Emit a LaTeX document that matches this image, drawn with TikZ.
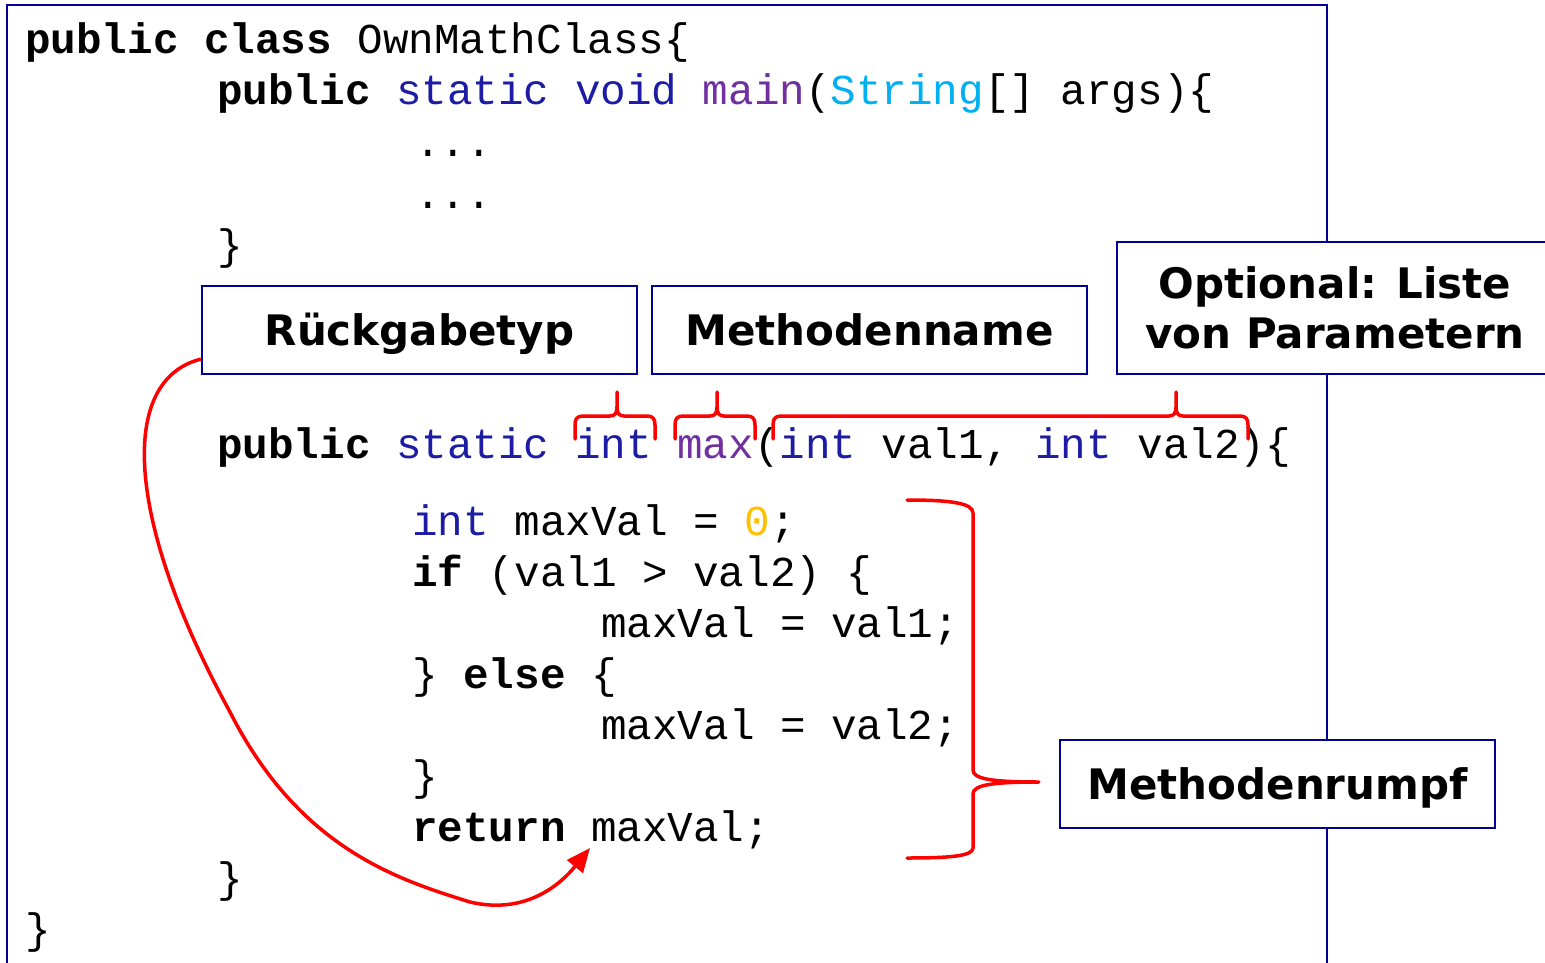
\documentclass[tikz,border=0pt]{standalone}
\usepackage{fontspec}
\setmonofont{Liberation Mono}
\newfontfamily\labelfont{DejaVu Sans}
\usetikzlibrary{arrows.meta,calc}

\definecolor{frameblue}{RGB}{0,0,153}
\definecolor{kwblue}{RGB}{28,28,164}
\definecolor{fnpurple}{RGB}{112,48,160}
\definecolor{typecyan}{RGB}{0,176,240}
\definecolor{numyellow}{RGB}{255,192,0}
\definecolor{markred}{RGB}{255,0,0}

\newcommand\kw[1]{\textcolor{kwblue}{#1}}
\newcommand\fn[1]{\textcolor{fnpurple}{#1}}
\newcommand\ty[1]{\textcolor{typecyan}{#1}}
\newcommand\num[1]{\textcolor{numyellow}{#1}}
\newcommand\bkw[1]{\textbf{#1}}

% curly brace above a code fragment: left end, tip, right end
\newcommand\codebrace[3]{%
  \draw[bracestyle] (#1,439) -- (#1,425)
    .. controls (#1,419) and (#1+2,416) .. (#1+8,416) -- (#2-7,416)
    .. controls (#2-2,416) and (#2,413) .. (#2,407) -- (#2,392)
    -- (#2,407) .. controls (#2,413) and (#2+2,416) .. (#2+7,416)
    -- (#3-8,416) .. controls (#3-2,416) and (#3,419) .. (#3,425) -- (#3,439);}

\begin{document}
\begin{tikzpicture}[x=1pt,y=-1pt,
  code/.style={inner sep=0pt,anchor=base west,
    font=\ttfamily\fontsize{42.6}{42.6}\selectfont},
  label/.style={draw=frameblue,line width=2.2pt,fill=white,align=center,
    font=\labelfont\bfseries\fontsize{42}{50}\selectfont,inner sep=0pt},
  oneline/.style={text height=31pt,text depth=0pt},
  bracestyle/.style={draw=markred,line width=3.5pt,line cap=round,line join=round},
  pointer/.style={draw=markred,line width=3.5pt,
    -{Triangle[length=24pt,width=20pt]}}]
\useasboundingbox (0,0) rectangle (1545,963);
\fill[white] (0,0) rectangle (1545,963);

% class frame
\draw[frameblue,line width=2.5pt] (7,980) -- (7,5) -- (1327,5) -- (1327,980);

% source code
\node[code] (l1)  at (25,54)   {\bkw{public class} OwnMathClass\{};
\node[code] (l2)  at (217,105) {\bkw{public} \kw{static void} \fn{main}(\ty{String}[] args)\{};
\node[code] (l3)  at (415,157) {...};
\node[code] (l4)  at (415,208) {...};
\node[code] (l5)  at (217,259) {\}};
\node[code] (l6)  at (217,458) {\bkw{public} \kw{static} \kw{int} \fn{max}(\kw{int} val1, \kw{int} val2)\{};
\node[code] (l7)  at (412,535) {\kw{int} maxVal = \num{0};};
\node[code] (l8)  at (412,586) {\bkw{if} (val1 > val2) \{};
\node[code] (l9)  at (601,637) {maxVal = val1;};
\node[code] (l10) at (412,688) {\} \bkw{else} \{};
\node[code] (l11) at (601,739) {maxVal = val2;};
\node[code] (l12) at (412,790) {\}};
\node[code] (l13) at (412,841) {\bkw{return} maxVal;};
\node[code] (l14) at (217,892) {\}};
\node[code] (l15) at (25,943)  {\}};

% labels
\node[label,oneline,minimum width=435pt,minimum height=88pt] (rt) at (419.5,330) {Rückgabetyp};
\node[label,oneline,minimum width=435pt,minimum height=88pt] (mn) at (869.5,330) {Methodenname};
\node[label,minimum width=436pt,minimum height=132pt] (pl) at (1335,308) {Optional: Liste\\von Parametern};
\node[label,oneline,minimum width=435pt,minimum height=88pt] (mb) at (1277.5,784) {Methodenrumpf};

% braces over the signature
\codebrace{575}{617}{655}
\codebrace{675}{717}{755}
\codebrace{773}{1176}{1248}

% brace around the method body
\coordinate (bodytip) at ($(mb.west)+(-20,-2)$);
\draw[bracestyle] (907,500) .. controls (950,500) and (973,503) .. (973,513)
  -- (973,770) .. controls (973,779) and (992,782) .. (bodytip)
  .. controls (992,782) and (973,785) .. (973,794)
  -- (973,848) .. controls (973,856) and (950,858) .. (907,858);

% return type flows to the returned value
\coordinate (retval) at (590,848);
\draw[pointer] ($(rt.south west)+(0,-16)$)
  .. controls (118,380) and (125,520) .. (230,712)
  .. controls (300,850) and (400,880) .. (470,902)
  .. controls (525,915) and (560,885) .. (retval);
\end{tikzpicture}
\end{document}
